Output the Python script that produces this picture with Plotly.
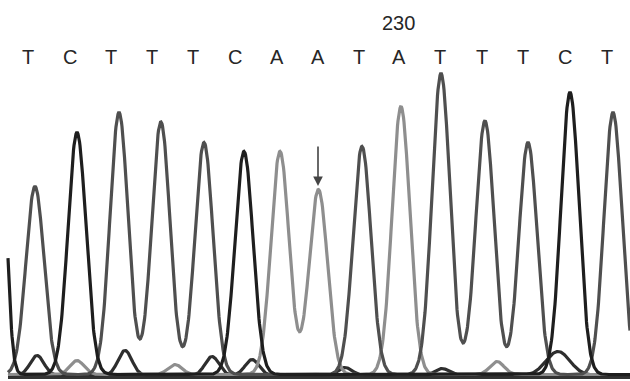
import numpy as np
import plotly.graph_objects as go

# ---- data ----
bases = ["T", "C", "T", "T", "T", "C", "A", "A", "T", "A", "T", "T", "T", "C", "T"]
base_label_x = [28, 70, 111, 152, 193, 235, 277, 318, 359, 399, 440, 482, 523, 565, 607]
peak_x = [35, 77, 119, 161, 204, 244, 280, 318, 362, 401, 441, 485, 528, 570, 613]
peak_h = [188, 242, 262, 251, 232, 223, 223, 178, 228, 257, 301, 253, 232, 282, 262]

# partial peak cut at left edge (C channel)
edge_peak = {"channel": "C", "x": 0, "h": 283}

# small background bumps near the baseline: channel, position, height
minor_channel = ["G", "G", "G", "G", "G", "G", "G", "A", "A", "A", "A", "A", "T", "T"]
minor_x = [37, 125, 212, 252, 558, 345, 442, 77, 175, 400, 497, 325, 150, 470]
minor_h = [20, 25, 19, 16, 24, 8, 7, 14, 10, 11, 13, 11, 5, 6]

position_label = "230"
position_label_x = 398

channel_colors = {"A": "#8e8e8e", "C": "#1e1e1e", "G": "#2e2e2e", "T": "#4f4f4f"}

# ---- build traces ----
x = np.arange(8, 630.5, 0.5)
sig = 9.0
signals = {ch: np.zeros_like(x) for ch in "ACGT"}
for b, px, h in zip(bases, peak_x, peak_h):
    signals[b] += h * np.exp(-((x - px) ** 2) / (2 * sig ** 2))
signals[edge_peak["channel"]] += edge_peak["h"] * np.exp(-((x - edge_peak["x"]) ** 2) / (2 * 6.0 ** 2))
for ch, px, h in zip(minor_channel, minor_x, minor_h):
    w = 12.0 if h > 20 and px > 500 else 7.0
    signals[ch] += h * np.exp(-((x - px) ** 2) / (2 * w ** 2))

fig = go.Figure()
# thick dark baseline band
fig.add_trace(go.Scatter(x=[8, 630], y=[1.5, 1.5], mode="lines",
                         line=dict(color="#333333", width=5),
                         hoverinfo="skip", showlegend=False))
for ch in ["G", "A", "T", "C"]:
    fig.add_trace(go.Scatter(
        x=x, y=signals[ch] + (2.5 if ch == "G" else 3.5), mode="lines",
        line=dict(color=channel_colors[ch], width=3.2),
        hoverinfo="skip", showlegend=False))

annotations = []
for b, bx in zip(bases, base_label_x):
    annotations.append(dict(x=bx, y=378 - 57, text=b, showarrow=False,
                            font=dict(family="Liberation Sans, Arial", size=20, color="#262626"),
                            xanchor="center", yanchor="middle"))
annotations.append(dict(x=position_label_x, y=378 - 23, text=position_label, showarrow=False,
                        font=dict(family="Liberation Sans, Arial", size=20, color="#262626"),
                        xanchor="center", yanchor="middle"))
annotations.append(dict(x=318, y=378 - 186, ax=318, ay=378 - 145, axref="x", ayref="y",
                        xref="x", yref="y", text="", showarrow=True,
                        arrowhead=2, arrowsize=1.2, arrowwidth=1.6, arrowcolor="#444444"))

fig.update_layout(
    width=630, height=381,
    margin=dict(l=0, r=0, t=0, b=0),
    paper_bgcolor="white", plot_bgcolor="white",
    xaxis=dict(range=[0, 630], visible=False, fixedrange=True),
    yaxis=dict(range=[-3, 378], visible=False, fixedrange=True),
    annotations=annotations,
)
fig.write_html("out.html")
